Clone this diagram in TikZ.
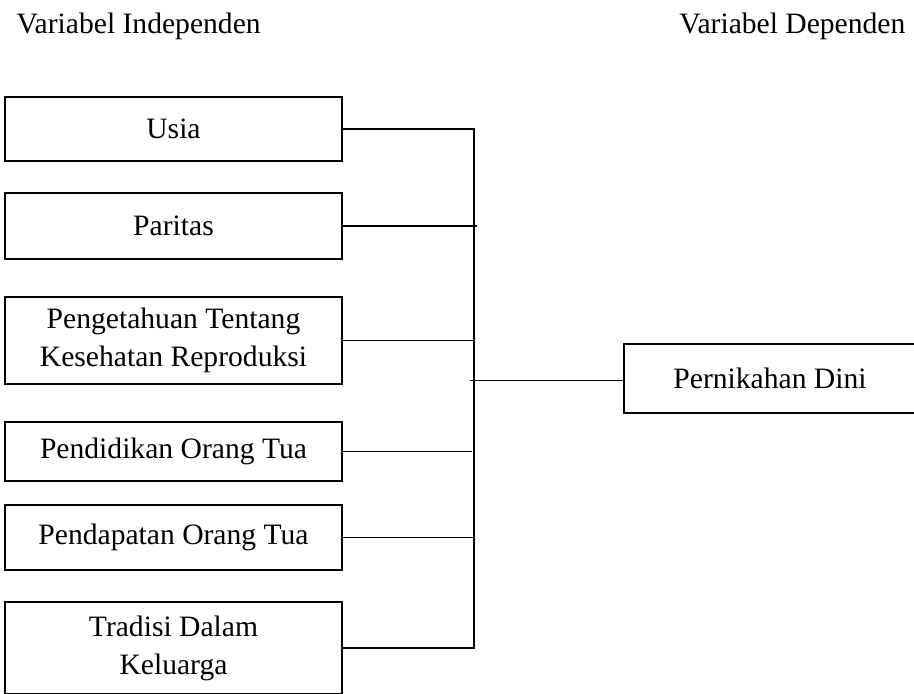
\documentclass[tikz,border=0pt]{standalone}
\usepackage{fontspec}
\setmainfont{Liberation Serif}
\usetikzlibrary{positioning}

\begin{document}
\begin{tikzpicture}[x=0.5pt,y=-0.5pt,line width=0.6pt,
  font=\fontsize{14.8}{19}\selectfont,
  var/.style={draw,inner sep=0pt,minimum width=168.5pt,align=center},
  head/.style={inner sep=0pt,anchor=base west}]
\useasboundingbox (0,0) rectangle (914,693);
\node[head] (hi) at (16,33) {Variabel Independen};
\node[head,anchor=base east] (hd) at (906,33) {Variabel Dependen};
\node[var,minimum height=32pt] (usia) at (173.5,129) {Usia};
\node[var,minimum height=33pt] (par) at (173.5,226) {Paritas};
\node[var,minimum height=43.5pt] (peng) at (173.5,340.5) {Pengetahuan Tentang\\Kesehatan Reproduksi};
\node[var,minimum height=29.5pt] (didik) at (173.5,451.5) {Pendidikan Orang Tua};
\node[var,minimum height=32.5pt] (dapat) at (173.5,537.5) {Pendapatan Orang Tua};
\node[var,minimum height=46pt] (trad) at (173.5,648) {Tradisi Dalam\\Keluarga};
\node[var,minimum width=146pt,minimum height=34.5pt] (nikah) at (770,378.5) {Pernikahan Dini};
% garis penghubung
\coordinate (atas) at (474,129);
\coordinate (bawah) at (474,648);
\draw (usia.east) -- (atas) -- (bawah) -- (trad.east);
\draw (par.east) -- ([xshift=1.5pt]par.east -| atas);
\draw (peng.east) -- (peng.east -| atas);
\draw (didik.east) -- ([xshift=-1pt]didik.east -| atas);
\draw (dapat.east) -- (dapat.east -| atas);
\draw ([yshift=-1pt]nikah.west) -- ([yshift=-1pt,xshift=-2pt]nikah.west -| atas);
\end{tikzpicture}
\end{document}
